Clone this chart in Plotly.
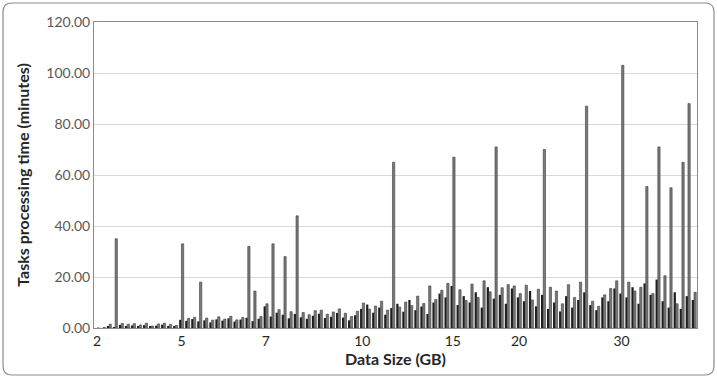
import plotly.graph_objects as go

# ---- data ----
n_cats = 100
black_vals = [
    0, 0, 0.5, 0.3, 1.2, 0.8, 1.0, 0.6, 1.1, 0.4, 0.9, 1.3, 0.7, 0.5,
    3.2, 2.8, 3.5, 2.6, 3.0, 2.2, 3.4, 2.9, 3.8, 2.5, 3.3, 4.0, 2.7, 3.6,
    8.5, 4.5, 6.0, 5.2, 3.8, 5.5, 4.2, 3.6, 4.8, 5.6, 3.9, 4.4, 5.9, 4.1, 3.0, 5.0,
    7.5, 9.2, 6.0, 8.0, 5.2, 7.8, 9.5, 6.4, 11.0, 7.0, 8.4, 5.5, 10.0, 13.5, 12.0,
    16.5, 9.0, 12.5, 10.0, 14.0, 8.0, 16.0, 11.5, 13.0, 9.5, 15.5, 12.0, 10.5, 14.5, 8.5,
    13.0, 7.5, 10.0, 6.5, 12.5, 8.0, 11.0, 14.0, 9.0, 7.0, 12.0, 10.5, 15.5, 13.5,
    12.0, 16.0, 9.5, 17.5, 13.0, 19.0, 10.5, 8.0, 14.0, 7.5, 12.5, 11.0,
]
gray_vals = [
    0, 0.2, 1.5, 35, 1.8, 1.5, 1.7, 1.2, 1.9, 0.8, 1.6, 1.9, 1.4, 1.0,
    33, 3.8, 4.2, 18, 3.9, 3.1, 4.4, 3.5, 4.6, 3.2, 4.1, 32, 14.5, 4.5,
    9.5, 33, 7.2, 28, 6.4, 44, 6.1, 5.2, 6.8, 7.0, 5.4, 6.3, 7.5, 5.8, 4.5, 6.6,
    9.8, 7.4, 8.6, 10.5, 7.0, 65, 8.2, 10.2, 8.8, 12.5, 9.6, 16.5, 11.2, 14.8, 17.5,
    67, 15.0, 10.8, 17.2, 12.0, 18.5, 14.2, 71, 15.8, 17.0, 16.5, 13.5, 16.8, 11.0, 15.2,
    70, 16.0, 14.5, 9.5, 17.0, 12.0, 18.0, 87, 10.5, 8.5, 13.0, 15.5, 18.5, 103,
    18.0, 14.5, 16.0, 55.5, 13.5, 71, 20.5, 55, 9.5, 65, 88, 14.0,
]
tick_positions = [0, 14, 28, 44, 59, 70, 87]
tick_labels = ["2", "5", "7", "10", "15", "20", "30"]
y_ticks = [0, 20, 40, 60, 80, 100, 120]

x = list(range(n_cats))

fig = go.Figure()
fig.add_trace(go.Bar(x=x, y=black_vals, marker=dict(color="#1e1e1e", line=dict(width=0)),
                     showlegend=False))
fig.add_trace(go.Bar(x=x, y=gray_vals, marker=dict(color="#7a7a7a", line=dict(color="#3c3c3c", width=0.6)),
                     showlegend=False))

W, H = 717, 378
L, R, T, B = 94, 20, 22, 50
pw, ph = W - L - R, H - T - B


def px2paper(px, py):
    return (px - L) / pw, (H - B - py) / ph


def rounded_rect_path(x0, y0, x1, y1, r):
    def P(px, py):
        a, b = px2paper(px, py)
        return f"{a:.5f},{b:.5f}"
    path = f"M {P(x0 + r, y0)} L {P(x1 - r, y0)} Q {P(x1, y0)} {P(x1, y0 + r)} "
    path += f"L {P(x1, y1 - r)} Q {P(x1, y1)} {P(x1 - r, y1)} "
    path += f"L {P(x0 + r, y1)} Q {P(x0, y1)} {P(x0, y1 - r)} "
    path += f"L {P(x0, y0 + r)} Q {P(x0, y0)} {P(x0 + r, y0)} Z"
    return path


fig.update_layout(
    width=W, height=H,
    margin=dict(l=L, r=R, t=T, b=B),
    paper_bgcolor="white", plot_bgcolor="white",
    barmode="group", bargap=0.25, bargroupgap=0,
    font=dict(family="Lato, 'Open Sans', sans-serif", color="#404040"),
    xaxis=dict(
        range=[-0.5, n_cats - 0.5],
        tickmode="array", tickvals=tick_positions, ticktext=tick_labels,
        tickfont=dict(size=14, color="#262626"),
        showgrid=False, showline=True, linecolor="#8c8c8c", mirror=True,
        ticks="", zeroline=False,
        title=dict(text="<b>Data Size (GB)</b>", font=dict(size=16, color="#262626"), standoff=4),
    ),
    yaxis=dict(
        range=[0, 120], tickvals=y_ticks, tickformat=".2f",
        tickfont=dict(size=14, color="#595959"),
        showgrid=True, gridcolor="#d9d9d9", gridwidth=1,
        showline=True, linecolor="#8c8c8c", mirror=True,
        zeroline=False, ticks="",
        title=dict(text="<b>Tasks processing time (minutes)</b>", font=dict(size=16, color="#262626"), standoff=12),
    ),
    shapes=[dict(type="path", xref="paper", yref="paper",
                 path=rounded_rect_path(3, 3, 714, 375, 9),
                 line=dict(color="#8c8c8c", width=1.2), layer="above")],
)

fig.write_html("out.html")
